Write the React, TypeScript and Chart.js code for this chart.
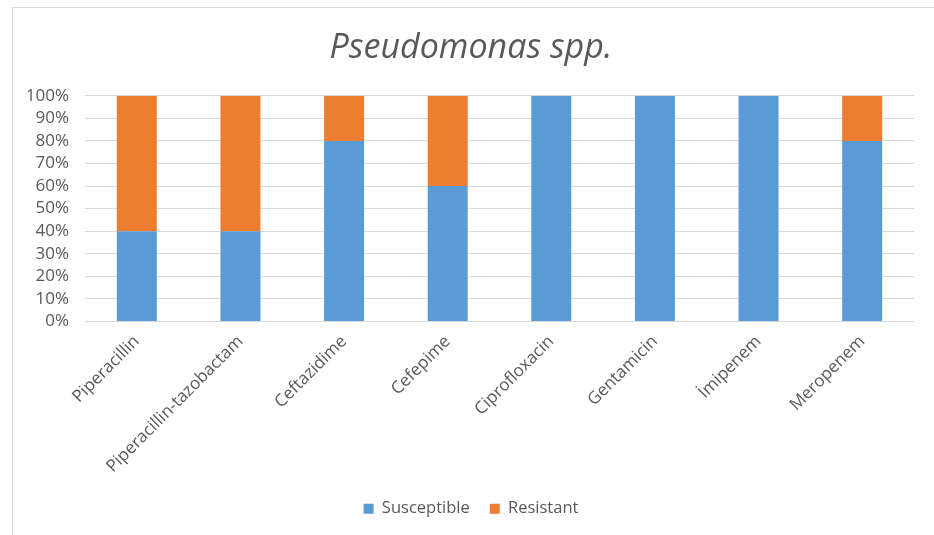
import React, { useEffect, useRef } from "react";
import { Chart, registerables } from "chart.js";

Chart.register(...registerables);

const categories = [
  "Piperacillin",
  "Piperacillin-tazobactam",
  "Ceftazidime",
  "Cefepime",
  "Ciprofloxacin",
  "Gentamicin",
  "İmipenem",
  "Meropenem",
];
const susceptible = [40, 40, 80, 60, 100, 100, 100, 80];
const resistant = [60, 60, 20, 40, 0, 0, 0, 20];
const yTicks = [0, 10, 20, 30, 40, 50, 60, 70, 80, 90, 100];

const FONT = "'Open Sans', sans-serif";
const TEXT = "#595959";

export default function App() {
  const ref = useRef<HTMLCanvasElement | null>(null);
  useEffect(() => {
    if (!ref.current) return;
    const chart = new Chart(ref.current, {
      type: "bar",
      data: {
        labels: categories,
        datasets: [
          { label: "Susceptible", data: susceptible, backgroundColor: "#5B9BD5", borderWidth: 0 },
          { label: "Resistant", data: resistant, backgroundColor: "#ED7D31", borderWidth: 0 },
        ],
      },
      options: {
        animation: false,
        responsive: false,
        maintainAspectRatio: false,
        datasets: { bar: { categoryPercentage: 1, barPercentage: 0.386 } },
        layout: { padding: { left: 28, right: 20, top: 0, bottom: 8 } },
        plugins: {
          title: {
            display: true,
            text: "Pseudomonas spp.",
            color: TEXT,
            font: { family: FONT, size: 34, style: "italic", weight: "normal" },
            padding: { top: 28, bottom: 27 },
          },
          legend: {
            position: "bottom",
            labels: {
              color: TEXT,
              font: { family: FONT, size: 16.5 },
              boxWidth: 10,
              boxHeight: 10,
              padding: 20,
            },
          },
          tooltip: { enabled: false },
        },
        scales: {
          x: {
            stacked: true,
            grid: { display: false },
            border: { display: false },
            ticks: {
              color: TEXT,
              font: { family: FONT, size: 17 },
              minRotation: 45,
              maxRotation: 45,
              autoSkip: false,
              padding: 2,
            },
            afterFit: (s: any) => {
              s.height = 159;
            },
          },
          y: {
            stacked: true,
            min: 0,
            max: 100,
            afterBuildTicks: (s: any) => {
              s.ticks = yTicks.map((v) => ({ value: v }));
            },
            grid: { color: "#d9d9d9", lineWidth: 1, drawTicks: false },
            border: { display: false },
            ticks: {
              color: TEXT,
              font: { family: FONT, size: 17 },
              padding: 16,
              autoSkip: false,
              callback: (v: any) => v + "%",
            },
            afterFit: (s: any) => {
              s.width = 57;
            },
          },
        },
      },
    });
    return () => chart.destroy();
  }, []);

  return (
    <div style={{ position: "absolute", left: 0, top: 0, width: 934, height: 535, background: "#fff" }}>
      <div
        style={{
          position: "absolute",
          left: 12,
          top: 7,
          width: 922,
          height: 528,
          borderLeft: "1px solid #d9d9d9",
          borderTop: "1px solid #d9d9d9",
          boxSizing: "border-box",
        }}
      />
      <canvas ref={ref} width={934} height={535} style={{ position: "absolute", left: 0, top: 0 }} />
    </div>
  );
}
